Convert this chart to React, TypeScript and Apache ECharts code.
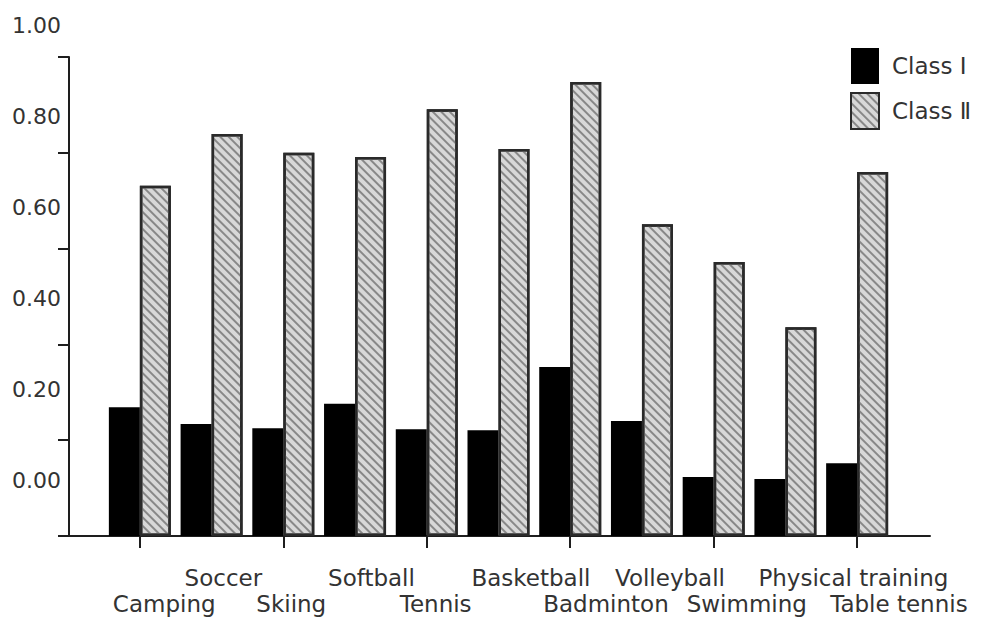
import React, { useEffect, useRef } from "react";
import * as echarts from "echarts";

const categories = [
  "Camping",
  "Soccer",
  "Skiing",
  "Softball",
  "Tennis",
  "Basketball",
  "Badminton",
  "Volleyball",
  "Swimming",
  "Physical training",
  "Table tennis",
];
const classI = [0.269, 0.234, 0.225, 0.276, 0.223, 0.221, 0.353, 0.24, 0.123, 0.119, 0.152];
const classII = [0.731, 0.839, 0.8, 0.791, 0.891, 0.808, 0.948, 0.651, 0.572, 0.436, 0.76];
const seriesNames = ["Class Ⅰ", "Class Ⅱ"];
const yMin = 0;
const yMax = 1;
const yStep = 0.2;

const FONT = "DejaVu Sans";
const INK = "#1e1e1e";

export default function App() {
  const ref = useRef<HTMLDivElement>(null);
  useEffect(() => {
    if (!ref.current) return;
    const chart = echarts.init(ref.current, undefined, { renderer: "svg" });
    const hatch = {
      color: "#888888",
      backgroundColor: "#d8d8d8",
      dashArrayX: [1, 0],
      dashArrayY: [1.5, 3.5],
      rotation: Math.PI / 4,
      symbolSize: 1,
    };
    chart.setOption({
      animation: false,
      backgroundColor: "#fff",
      textStyle: { fontFamily: FONT },
      legend: {
        orient: "vertical",
        left: 850,
        top: 48,
        padding: 0,
        itemWidth: 28,
        itemHeight: 36,
        itemGap: 8,
        icon: "rect",
        textStyle: { fontFamily: FONT, fontSize: 23, color: "#333", padding: [0, 0, 0, 8] },
        data: seriesNames,
      },
      grid: [
        { left: 104, right: 89, top: 57, bottom: 83 },
        { left: 69, right: 52, top: 57, bottom: 83 },
        { left: 69, right: 52, top: 25, bottom: 139 },
        { left: 77, right: 116, top: 57, bottom: 83 },
      ],
      xAxis: [
        {
          gridIndex: 0,
          type: "category",
          data: categories,
          axisLine: { show: false },
          axisTick: { show: true, alignWithLabel: true, length: 12, lineStyle: { color: INK, width: 2 } },
          axisLabel: { show: false },
        },
        {
          gridIndex: 1,
          type: "value",
          min: 0,
          max: 1,
          axisLine: { show: true, lineStyle: { color: INK, width: 2 } },
          axisTick: { show: false },
          axisLabel: { show: false },
          splitLine: { show: false },
        },
        { gridIndex: 2, type: "value", show: false },
        {
          gridIndex: 3,
          type: "category",
          data: categories,
          axisLine: { show: false },
          axisTick: { show: false },
          axisLabel: {
            show: true,
            interval: 0,
            align: "left",
            verticalAlign: "top",
            margin: 29,
            lineHeight: 26,
            fontFamily: FONT,
            fontSize: 23,
            color: "#333",
            formatter: (v: string, i: number) => (i % 2 === 1 ? v + "\n " : " \n" + v),
          },
        },
      ],
      yAxis: [
        { gridIndex: 0, type: "value", min: yMin, max: yMax, show: false },
        {
          gridIndex: 1,
          type: "value",
          min: yMin,
          max: yMax,
          interval: yStep,
          axisLine: { show: true, lineStyle: { color: INK, width: 2 } },
          axisTick: { show: true, length: 11, lineStyle: { color: INK, width: 2 } },
          axisLabel: { show: false },
          splitLine: { show: false },
        },
        {
          gridIndex: 2,
          type: "value",
          min: yMin,
          max: yMax,
          interval: yStep,
          axisLine: { show: false },
          axisTick: { show: false },
          splitLine: { show: false },
          axisLabel: {
            show: true,
            margin: 8,
            fontFamily: FONT,
            fontSize: 22,
            color: "#333",
            formatter: (v: number) => v.toFixed(2),
          },
        },
        { gridIndex: 3, type: "value", show: false },
      ],
      series: [
        {
          name: seriesNames[0],
          type: "bar",
          xAxisIndex: 0,
          yAxisIndex: 0,
          data: classI,
          barWidth: 31,
          barGap: "0%",
          itemStyle: { color: "#000" },
        },
        {
          name: seriesNames[1],
          type: "bar",
          xAxisIndex: 0,
          yAxisIndex: 0,
          data: classII,
          barWidth: 31,
          barGap: "0%",
          itemStyle: { color: "#d8d8d8", borderColor: "#2a2a2a", borderWidth: 2.5, decal: hatch },
        },
      ],
    });
    return () => chart.dispose();
  }, []);
  return <div ref={ref} style={{ position: "fixed", left: 0, top: 0, width: 982, height: 619 }} />;
}
